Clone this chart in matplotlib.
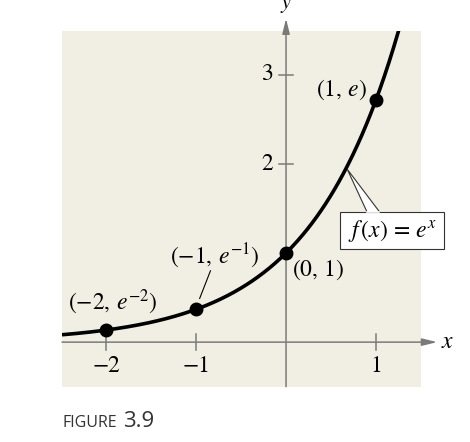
import numpy as np
import matplotlib
matplotlib.use("Agg")
import matplotlib.pyplot as plt
from matplotlib.patches import Polygon, Rectangle

# -----------------------------------------------------
# Data
# -----------------------------------------------------
point_x = [-2, -1, 0, 1]
point_y = [0.135, 0.368, 1.0, 2.718]
point_labels = [r"$(-2,\, e^{-2})$", r"$(-1,\, e^{-1})$", r"$(0,\, 1)$", r"$(1,\, e)$"]
label_pos = [(-1.93, 0.45), (-0.79, 0.97), (0.36, 0.81), (0.62, 2.83)]

x_ticks = [-2, -1, 1]
x_tick_labels = ["\u22122", "\u22121", "1"]
y_ticks = [2, 3]
y_tick_labels = ["2", "3"]

# curve is the function shown in the figure: f(x) = e^x
curve_x = np.linspace(-2.49, 1.27, 300)
curve_y = np.exp(curve_x)

# -----------------------------------------------------
# Style
# -----------------------------------------------------
plt.rcParams["font.family"] = "STIXGeneral"
plt.rcParams["mathtext.fontset"] = "stix"

BG = "#f1efe3"
AXIS = "#7a7a7a"
FS = 17

fig = plt.figure(figsize=(4.70, 4.42), dpi=100)
ax = fig.add_axes([62 / 470, 1 - 386.7 / 442, 359 / 470, 355.7 / 442])
ax.set_facecolor(BG)
ax.set_xlim(-2.49, 1.5)
ax.set_ylim(-0.5, 3.49)
for s in ax.spines.values():
    s.set_visible(False)
ax.set_xticks([])
ax.set_yticks([])

# axes with arrows
ax.annotate("", xy=(1.68, 0), xytext=(-2.49, 0), annotation_clip=False,
            arrowprops=dict(arrowstyle="-|>,head_length=0.9,head_width=0.22",
                            color=AXIS, lw=1.1, shrinkA=0, shrinkB=0))
ax.annotate("", xy=(0, 3.63), xytext=(0, -0.5), annotation_clip=False,
            arrowprops=dict(arrowstyle="-|>,head_length=0.9,head_width=0.22",
                            color=AXIS, lw=1.1, shrinkA=0, shrinkB=0))
ax.text(1.80, 0, r"$x$", fontsize=FS, ha="center", va="center", clip_on=False)
ax.text(0, 3.78, r"$y$", fontsize=FS - 1, ha="center", va="center", clip_on=False)

# ticks
for xt, lab in zip(x_ticks, x_tick_labels):
    ax.plot([xt, xt], [-0.09, 0.09], color=AXIS, lw=1.1)
    ax.text(xt, -0.27, lab, fontsize=FS, ha="center", va="center")
for yt, lab in zip(y_ticks, y_tick_labels):
    ax.plot([-0.08, 0.08], [yt, yt], color=AXIS, lw=1.1)
    ax.text(-0.21, yt, lab, fontsize=FS, ha="center", va="center")

# curve and points
ax.plot(curve_x, curve_y, color="black", lw=2.6, solid_capstyle="butt", zorder=3)
ax.plot(point_x, point_y, "o", color="black", ms=9, zorder=4)

for lab, (lx, ly) in zip(point_labels, label_pos):
    ax.text(lx, ly, lab, fontsize=FS, ha="center", va="center", zorder=5)

# leader for (-1, e^-1)
ax.plot([-0.84, -0.96], [0.80, 0.49], color="black", lw=0.8, zorder=3)

# callout box f(x) = e^x
wedge = Polygon([(0.90, 1.46), (0.68, 1.94), (1.04, 1.46)], closed=False,
                facecolor="white", edgecolor="#333333", lw=0.8, zorder=5,
                clip_on=False)
ax.add_patch(wedge)
box = Rectangle((0.60, 1.05), 1.16, 0.41, facecolor="white", edgecolor="#333333",
                lw=0.8, zorder=6, clip_on=False)
ax.add_patch(box)
ax.plot([0.905, 1.035], [1.46, 1.46], color="white", lw=1.2, zorder=7, clip_on=False)
ax.text(1.18, 1.25, r"$f\,(x)\, =\, e^{x}$", fontsize=FS, ha="center", va="center",
        zorder=8, clip_on=False)

# caption
fig.text(62 / 470, 1 - 423 / 442, "FIGURE", fontsize=11.5, family="Open Sans",
         color="#333333", ha="left", va="center")
fig.text(123 / 470, 1 - 421.5 / 442, "3.9", fontsize=16, family="Open Sans",
         color="#333333", ha="left", va="center")

fig.savefig("out.png", dpi=100)
